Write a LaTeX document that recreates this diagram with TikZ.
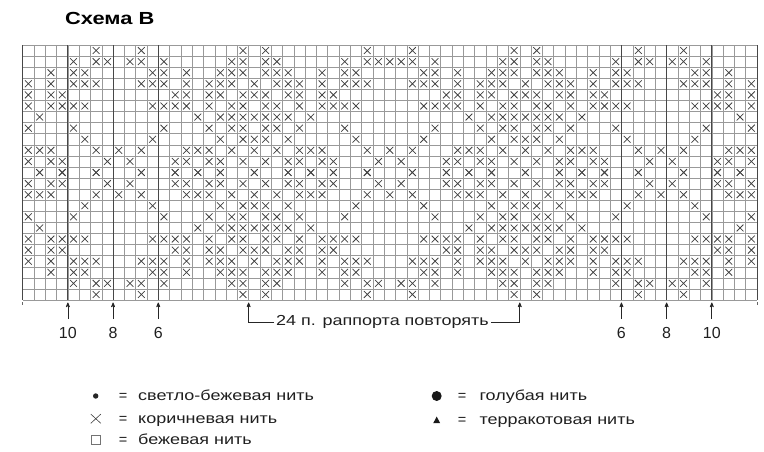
\documentclass[tikz,border=0pt]{standalone}
\usepackage{fontspec}
\setmainfont{Liberation Sans}
\usetikzlibrary{arrows,positioning}

% chart geometry (1pt = 1px of the scan)
\newcommand{\cellw}{11.297}
\newcommand{\cellh}{11.087}
\newcommand{\gridx}{22.7}
\newcommand{\gridy}{45}
\newcommand{\wide}[1]{\scalebox{1.24}[1]{#1}}
\newcommand{\xmark}[2]{\draw[stitch] ({\gridx+(#1+0.5)*\cellw},{\gridy+(#2+0.5)*\cellh}) +(-3.4,-3.4) -- +(3.4,3.4) +(-3.4,3.4) -- +(3.4,-3.4);}

\begin{document}
\begin{tikzpicture}[x=1pt,y=-1pt,>=stealth',
    gridline/.style={draw=black!40,line width=0.45pt},
    sizeline/.style={draw=black!72,line width=0.9pt},
    stitch/.style={draw=black!75,line width=0.75pt},
    marker/.style={->,draw=black!85,line width=0.7pt},
    sizelabel/.style={font=\fontsize{16}{16}\selectfont,text=black!88,inner sep=0pt,anchor=base},
    legtext/.style={font=\fontsize{14.5}{15}\selectfont,text=black!88,inner sep=0pt,anchor=base west}]
  \useasboundingbox (0,0) rectangle (764,451);

  % title
  \node[anchor=base west,inner sep=0pt,font=\bfseries\fontsize{17.5}{18}\selectfont] (title) at (65,24) {\scalebox{1.25}[1]{Схема В}};

  % grid
  \foreach \col in {0,...,65}
    \draw[gridline] ({\gridx+\col*\cellw},\gridy) -- ({\gridx+\col*\cellw},{\gridy+23*\cellh});
  \foreach \row in {0,...,23}
    \draw[gridline] (\gridx,{\gridy+\row*\cellh}) -- ({\gridx+65*\cellw},{\gridy+\row*\cellh});
  \foreach \col in {0,4,8,12,53,57,61,65}
    \draw[sizeline] ({\gridx+\col*\cellw},\gridy) -- ({\gridx+\col*\cellw},{\gridy+23*\cellh});

  % stitches: 24 st repeat, rows mirrored about row 11
  \foreach \row/\cols in {0/{6,10,19,21},
      1/{4,6,7,9,10,12,18,19,21,22},
      2/{2,4,5,11,12,14,17,18,19,21,22,23},
      3/{0,2,4,5,6,10,11,12,14,16,17,18,20,22,23},
      4/{0,2,3,13,14,16,17,19,20,21,23},
      5/{0,2,3,4,5,11,12,13,14,16,18,19,21,22},
      6/{1,15,17,18,19,20,21,22,23},
      7/{0,4,12,16,18,19,21,22},
      8/{5,11,17,19,20,21,23},
      9/{0,1,2,6,8,10,14,15,16,18,20,22},
      10/{0,2,3,7,9,13,14,16,17,19,21,23},
      11/{1,3,6,10,13,15,17,20,23}} {
    \pgfmathtruncatemacro{\rlow}{22-\row}
    \foreach \pos in \cols {
      \foreach \rep in {0,1,2} {
        \pgfmathtruncatemacro{\col}{\pos+24*\rep}
        \ifnum\col<65\relax \xmark{\col}{\row}\xmark{\col}{\rlow}\fi
      }
    }
  }
  \xmark{32}{1}

  % small ticks at the lower corners
  \coordinate (cornerL) at (\gridx,302);
  \coordinate (cornerR) at ({\gridx+65*\cellw},302);
  \draw[draw=black!60,line width=0.6pt] (cornerL) -- ++(0,3);
  \draw[draw=black!60,line width=0.6pt] (cornerR) -- ++(0,3);

  % size marks
  \foreach \col/\lab [count=\idx] in {4/10,8/8,12/6,53/6,57/8,61/10} {
    \coordinate (tip\idx) at ({\gridx+\col*\cellw},302.5);
    \coordinate (foot\idx) at ({\gridx+\col*\cellw},319);
    \draw[marker] (foot\idx) -- (tip\idx);
    \node[sizelabel] (size\idx) at ({\gridx+\col*\cellw},338.5) {\lab};
  }

  % repeat
  \node[sizelabel,font=\fontsize{14.5}{15}\selectfont,inner sep=2pt] (rapport) at (382.5,325.5) {\wide{24 п. раппорта повторять}};
  \coordinate (rapL) at ({\gridx+20*\cellw},302.5);
  \coordinate (rapLb) at ({\gridx+20*\cellw},322.5);
  \coordinate (rapR) at ({\gridx+44*\cellw},302.5);
  \coordinate (rapRb) at ({\gridx+44*\cellw},322.5);
  \draw[marker] (rapLb -| rapport.west) -- (rapLb) -- (rapL);
  \draw[marker] (rapRb -| rapport.east) -- (rapRb) -- (rapR);

  % legend
  \node[circle,fill=black!85,inner sep=0pt,minimum size=5.4pt] (dotlight) at (95.7,396) {};
  \node[legtext,anchor=base] (eq1) at (123,400) {=};
  \node[legtext] (txt1) at (138,400) {\wide{светло-бежевая нить}};
  \coordinate (crossmark) at (95.8,418.7);
  \draw[stitch,line width=0.6pt] (crossmark) +(-5,-4.6) -- +(5,4.6) +(-5,4.6) -- +(5,-4.6);
  \node[legtext,anchor=base] (eq2) at (123,423) {=};
  \node[legtext] (txt2) at (138,423) {\wide{коричневая нить}};
  \node[draw=black!55,line width=0.5pt,inner sep=0pt,minimum size=9pt] (boxmark) at (95.5,440) {};
  \node[legtext,anchor=base] (eq3) at (123,444.5) {=};
  \node[legtext] (txt3) at (138,444.5) {\wide{бежевая нить}};
  \node[circle,fill=black!90,inner sep=0pt,minimum size=10pt] (dotblue) at (436.7,396) {};
  \node[legtext,anchor=base] (eq4) at (462,400.5) {=};
  \node[legtext] (txt4) at (479.3,400.5) {\wide{голубая нить}};
  \fill[black!90] (433.2,423.2) -- (440.2,423.2) -- (436.7,416.6) -- cycle;
  \node[legtext,anchor=base] (eq5) at (462,424) {=};
  \node[legtext] (txt5) at (479.3,424) {\wide{терракотовая нить}};
\end{tikzpicture}
\end{document}
